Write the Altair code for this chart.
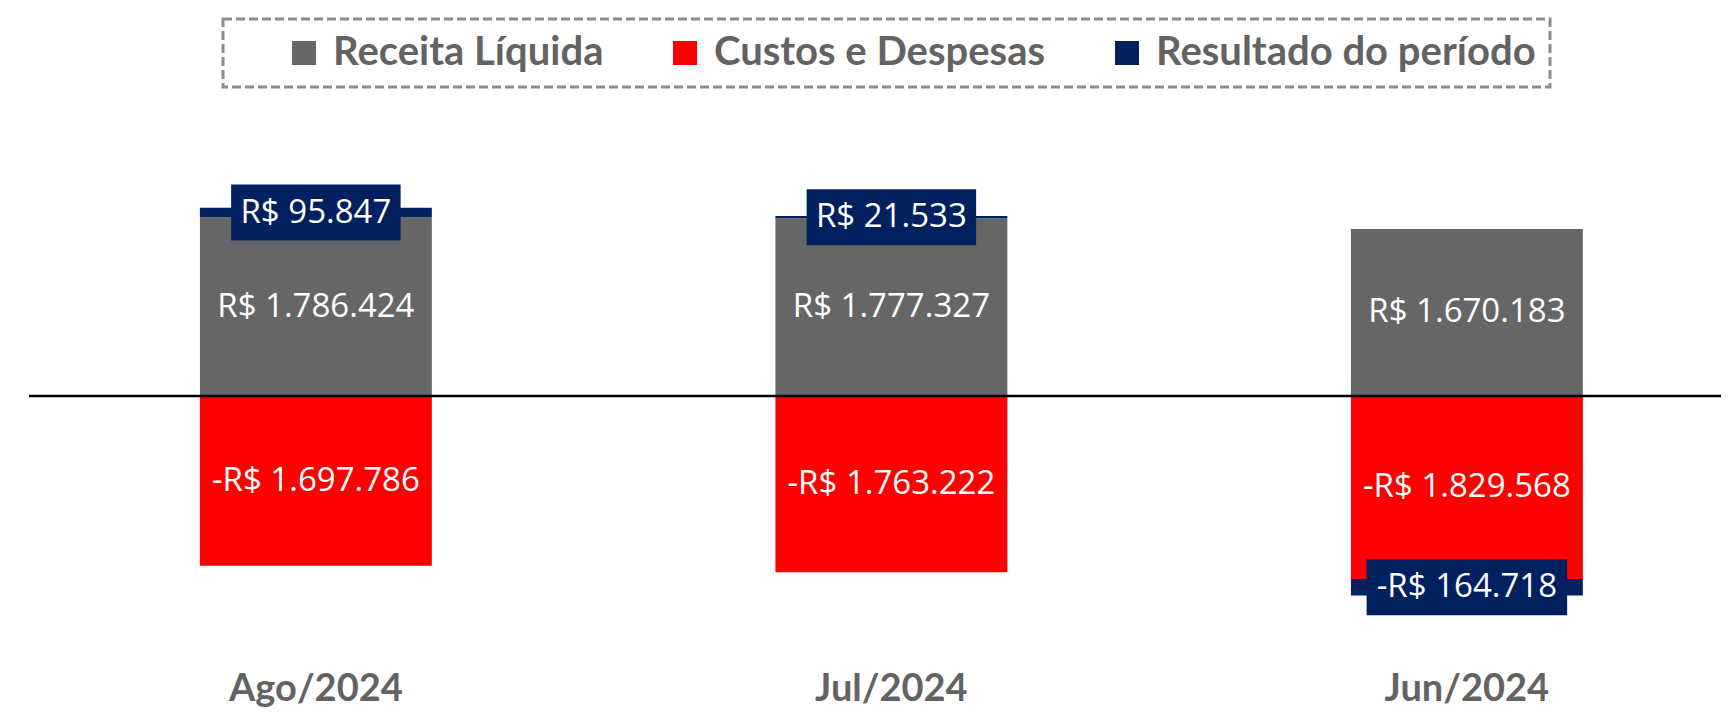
import altair as alt
import pandas as pd

meses = ["Ago/2024", "Jul/2024", "Jun/2024"]
series = ["Receita Líquida", "Custos e Despesas", "Resultado do período"]
receita = [1786424, 1777327, 1670183]
custos = [-1697786, -1763222, -1829568]
resultado = [95847, 21533, -164718]
cores = ["#666666", "#FF0000", "#002060"]


def brl(v):
    s = f"{abs(v):,}".replace(",", ".")
    return ("-" if v < 0 else "") + "R$ " + s


rows = []
for i, m in enumerate(meses):
    for k, vals in enumerate([receita, custos, resultado]):
        rows.append({"mes": m, "serie": series[k], "ordem": k,
                     "valor": vals[i], "label": brl(vals[i])})
df = pd.DataFrame(rows)

base = alt.Chart(df).transform_stack(
    stack="valor", as_=["v0", "v1"], groupby=["mes"],
    sort=[alt.SortField("ordem", order="ascending")]
).transform_calculate(mid="(datum.v0 + datum.v1) / 2")

xenc = alt.X("mes:N", sort=meses,
             scale=alt.Scale(paddingInner=0.597, paddingOuter=0.2685, align=0.553),
             axis=alt.Axis(title=None, domain=False, ticks=False, tickSize=0, grid=False,
                           labelFont="Lato", labelFontSize=38, labelFontWeight="bold",
                           labelColor="#636363", labelBaseline="alphabetic",
                           labelPadding=32, labelAngle=0))
yscale = alt.Scale(domain=[-2720000, 3880000], nice=False, zero=False)

bars = base.mark_bar().encode(
    x=xenc,
    y=alt.Y("v0:Q", scale=yscale, axis=None),
    y2="v1:Q",
    color=alt.Color("serie:N", sort=series,
                    scale=alt.Scale(domain=series, range=cores),
                    legend=alt.Legend(orient="none", legendX=194, legendY=11,
                                      direction="horizontal", title=None,
                                      symbolType="square", symbolSize=576,
                                      symbolStrokeWidth=0, symbolOffset=47,
                                      labelFont="Lato", labelFontSize=40,
                                      labelFontWeight="bold", labelColor="#636363",
                                      labelLimit=800,
                                      labelOffset=9, columnPadding=14,
                                      padding=14, strokeColor="#8c8c8c")),
)

inner = base.transform_filter("datum.ordem < 2").mark_text(
    font="Open Sans", fontSize=33, color="white", baseline="middle"
).encode(x=alt.X("mes:N", sort=meses), y=alt.Y("mid:Q", scale=yscale), text="label:N")

res = base.transform_filter("datum.ordem == 2").transform_calculate(
    bw="30 + 15.5 * length(datum.label)"
).transform_calculate(
    sz="datum.bw * datum.bw",
    shp="'M-1,' + (-56 / datum.bw) + 'L1,' + (-56 / datum.bw) + 'L1,' + (56 / datum.bw) + 'L-1,' + (56 / datum.bw) + 'Z'"
)

boxes = res.mark_point(filled=True, opacity=1, color="#002060", strokeWidth=0).encode(
    x=alt.X("mes:N", sort=meses), y=alt.Y("mid:Q", scale=yscale),
    size=alt.Size("sz:Q", scale=None, legend=None),
    shape=alt.Shape("shp:N", scale=None, legend=None),
)

restext = res.mark_text(
    font="Open Sans", fontSize=33, color="white", baseline="middle"
).encode(x=alt.X("mes:N", sort=meses), y=alt.Y("mid:Q", scale=yscale), text="label:N")

zero = alt.Chart(pd.DataFrame({"z": [0]})).mark_rule(color="black", strokeWidth=2.5).encode(
    y=alt.Y("z:Q", scale=yscale)
)

chart = alt.layer(bars, zero, inner, boxes, restext).properties(
    width=1692, height=660,
    autosize=alt.AutoSizeParams(type="none"),
    padding={"left": 21, "top": 0, "right": 0, "bottom": 43},
).configure_view(stroke=None).configure_legend(strokeDash=[9, 4], strokeWidth=3)

chart.save("out.html", embed_options={"renderer": "svg", "actions": False})
